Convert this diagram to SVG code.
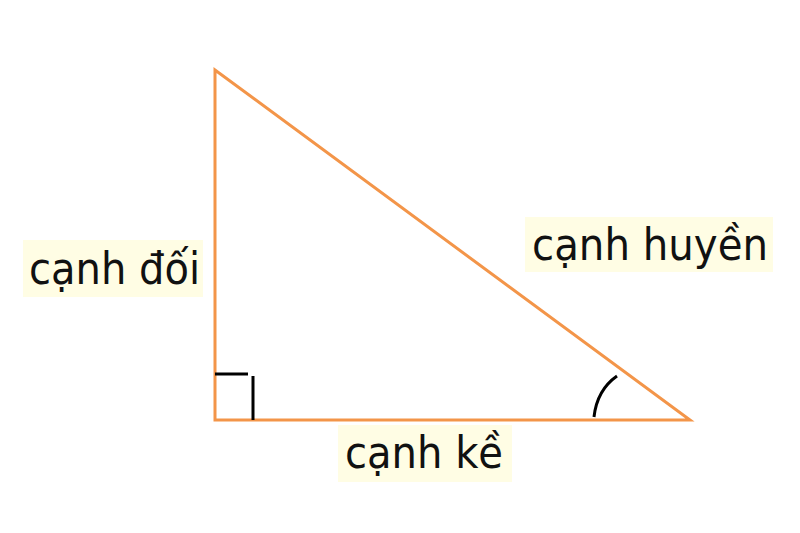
<svg xmlns="http://www.w3.org/2000/svg" width="800" height="533" viewBox="0 0 800 533">
<style>
.side{fill:none;stroke:#F39549;stroke-width:3;stroke-linejoin:miter}
.mark{fill:none;stroke:#000;stroke-width:3}
.bg{fill:#FFFDE4}
.lbl{font-family:"DejaVu Sans Condensed","DejaVu Sans",Verdana,sans-serif;font-size:44px;fill:#111}
</style>
<rect width="800" height="533" fill="#fff"/>
<g id="triangle">
<polygon class="side" points="215,70 215,420 690,420"/>
</g>
<g id="connectors">
<path class="mark" d="M215,374 H248 M253,376 V420"/>
<path class="mark" d="M594,417 Q597,390 617,376"/>
</g>
<g id="label-doi">
<rect class="bg" x="23" y="240" width="180" height="57"/>
<text class="lbl" x="29" y="284" textLength="171" lengthAdjust="spacingAndGlyphs">cạnh đối</text>
</g>
<g id="label-huyen">
<rect class="bg" x="525" y="217" width="248" height="55"/>
<text class="lbl" x="532" y="260" textLength="236" lengthAdjust="spacingAndGlyphs">cạnh huyền</text>
</g>
<g id="label-ke">
<rect class="bg" x="338" y="425" width="174" height="57"/>
<text class="lbl" x="345" y="468" textLength="158" lengthAdjust="spacingAndGlyphs">cạnh kề</text>
</g>
</svg>
